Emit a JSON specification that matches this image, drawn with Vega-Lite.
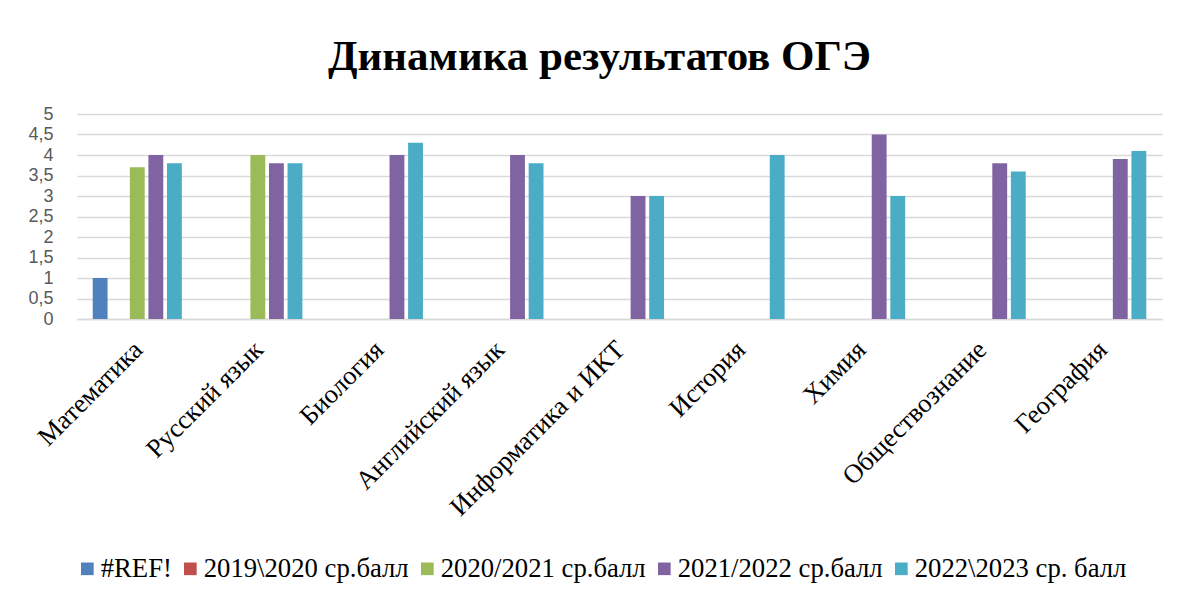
{
  "$schema": "https://vega.github.io/schema/vega-lite/v6.json",
  "width": 1085,
  "height": 205,
  "autosize": {"type": "none"},
  "padding": {"left": 77, "top": 114, "right": 17, "bottom": 278},
  "background": "white",
  "title": {
    "text": "Динамика результатов ОГЭ",
    "font": "Liberation Serif",
    "fontSize": 43,
    "fontWeight": "bold",
    "color": "#000000",
    "anchor": "middle",
    "frame": "group",
    "dx": -20,
    "offset": 26
  },
  "data": {
    "values": [
      {"subject": "Математика", "series": "#REF!", "value": 1},
      {"subject": "Математика", "series": "2020/2021 ср.балл", "value": 3.7},
      {"subject": "Математика", "series": "2021/2022 ср.балл", "value": 4},
      {"subject": "Математика", "series": "2022\\2023 ср. балл", "value": 3.8},
      {"subject": "Русский язык", "series": "2020/2021 ср.балл", "value": 4},
      {"subject": "Русский язык", "series": "2021/2022 ср.балл", "value": 3.8},
      {"subject": "Русский язык", "series": "2022\\2023 ср. балл", "value": 3.8},
      {"subject": "Биология", "series": "2021/2022 ср.балл", "value": 4},
      {"subject": "Биология", "series": "2022\\2023 ср. балл", "value": 4.3},
      {"subject": "Английский язык", "series": "2021/2022 ср.балл", "value": 4},
      {"subject": "Английский язык", "series": "2022\\2023 ср. балл", "value": 3.8},
      {"subject": "Информатика и ИКТ", "series": "2021/2022 ср.балл", "value": 3},
      {"subject": "Информатика и ИКТ", "series": "2022\\2023 ср. балл", "value": 3},
      {"subject": "История", "series": "2022\\2023 ср. балл", "value": 4},
      {"subject": "Химия", "series": "2021/2022 ср.балл", "value": 4.5},
      {"subject": "Химия", "series": "2022\\2023 ср. балл", "value": 3},
      {"subject": "Обществознание", "series": "2021/2022 ср.балл", "value": 3.8},
      {"subject": "Обществознание", "series": "2022\\2023 ср. балл", "value": 3.6},
      {"subject": "География", "series": "2021/2022 ср.балл", "value": 3.9},
      {"subject": "География", "series": "2022\\2023 ср. балл", "value": 4.1}
    ]
  },
  "mark": {"type": "bar"},
  "encoding": {
    "x": {
      "field": "subject",
      "type": "nominal",
      "sort": ["Математика", "Русский язык", "Биология", "Английский язык", "Информатика и ИКТ", "История", "Химия", "Обществознание", "География"],
      "scale": {"paddingInner": 0.23, "paddingOuter": 0.115},
      "axis": {
        "title": null,
        "labelAngle": -45,
        "labelFont": "Liberation Serif",
        "labelFontSize": 26.5,
        "labelColor": "#000000",
        "labelPadding": 17,
        "labelOffset": -8,
        "ticks": false,
        "domainColor": "#D9D9D9",
        "domainWidth": 1.5,
        "labelLimit": 400,
        "grid": false
      }
    },
    "xOffset": {
      "field": "series",
      "type": "nominal",
      "scale": {
        "domain": ["#REF!", "2019\\2020 ср.балл", "2020/2021 ср.балл", "2021/2022 ср.балл", "2022\\2023 ср. балл"],
        "paddingInner": 0.2,
        "paddingOuter": 0.1
      }
    },
    "y": {
      "field": "value",
      "type": "quantitative",
      "scale": {"domain": [0, 5], "nice": false},
      "axis": {
        "title": null,
        "values": [0, 0.5, 1, 1.5, 2, 2.5, 3, 3.5, 4, 4.5, 5],
        "format": "~g",
        "labelExpr": "replace(datum.label, '.', ',')",
        "labelFont": "Liberation Sans",
        "labelFontSize": 18,
        "labelColor": "#595959",
        "labelPadding": 24,
        "ticks": false,
        "domain": false,
        "gridColor": "#D9D9D9",
        "gridWidth": 1.5
      }
    },
    "color": {
      "field": "series",
      "type": "nominal",
      "scale": {
        "domain": ["#REF!", "2019\\2020 ср.балл", "2020/2021 ср.балл", "2021/2022 ср.балл", "2022\\2023 ср. балл"],
        "range": ["#4F81BD", "#C0504D", "#9BBB59", "#8064A2", "#4BACC6"]
      },
      "legend": {
        "title": null,
        "orient": "none",
        "direction": "horizontal",
        "legendX": -3,
        "legendY": 441,
        "symbolType": "square",
        "symbolSize": 160,
        "symbolStrokeWidth": 0,
        "labelFont": "Liberation Serif",
        "labelFontSize": 26.7,
        "labelColor": "#000000",
        "labelOffset": 0,
        "columnPadding": 5,
        "labelLimit": 400
      }
    }
  },
  "config": {
    "view": {"stroke": null},
    "axis": {"labelOverlap": false}
  }
}
